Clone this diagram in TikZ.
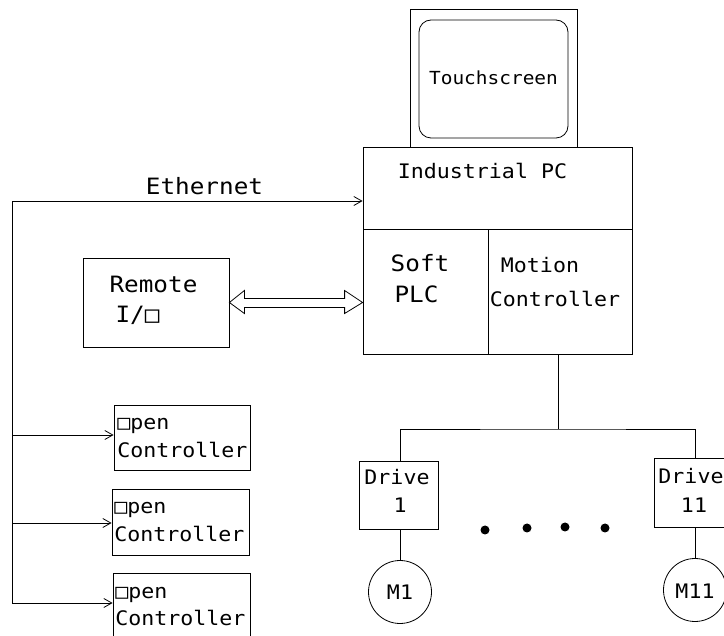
\documentclass[tikz,border=0pt]{standalone}
\usepackage{fontspec}
\newfontfamily\cad[FakeStretch=1.08]{DejaVu Sans Mono}
\usetikzlibrary{arrows.meta,calc}
\begin{document}
\begin{tikzpicture}[x=1pt,y=-1pt,
  line width=0.8pt,
  box/.style={draw, rectangle, inner sep=0pt},
  txt/.style={inner sep=0pt, font=\cad\fontsize{20}{24}\selectfont},
  bigtxt/.style={inner sep=0pt, font=\cad\fontsize{22.5}{26}\selectfont},
  arr/.style={-{Straight Barb[length=8pt,width=9pt]}}]
\path[use as bounding box] (0,0) rectangle (724,636);
\clip (0,0) rectangle (724,636);

% monitor
\node[box, minimum width=167pt, minimum height=138pt] (mon) at (493.5,78) {};
\node[box, rounded corners=12pt, minimum width=149pt, minimum height=118pt] (ts) at (493.5,79) {};
\node[txt, font=\cad\fontsize{18}{22}\selectfont, anchor=base] (tstxt) at (493.5,85) {Touchscreen};

% industrial PC
\node[box, minimum width=269pt, minimum height=82pt] (pctop) at (497.5,188) {};
\node[box, minimum width=125pt, minimum height=125pt] (soft) at (425.5,291.5) {};
\node[box, minimum width=144pt, minimum height=125pt] (motion) at (560,291.5) {};
\node[txt, anchor=base] (pctxt) at (482.5,179) {Industrial PC};
\node[bigtxt, anchor=base] (softtxt) at (420,272) {Soft};
\node[bigtxt, anchor=base] (plctxt) at (416.5,303) {PLC};
\node[txt, anchor=base] (mottxt) at (540,273) {Motion};
\node[txt, anchor=base] (ctltxt) at (555,307) {Controller};

% remote I/O
\node[box, minimum width=146pt, minimum height=89pt] (rio) at (156,302.5) {};
\node[bigtxt, anchor=base] (riotxt1) at (153.5,293) {Remote};
\node[bigtxt, anchor=base] (riotxt2) at (137.5,323) {I/□};

% double arrow Remote I/O <-> Soft PLC
\coordinate (dl) at (rio.east);
\coordinate (dr) at (soft.west |- dl);
\draw (dl) -- ($(dl)+(15,-12)$) -- ($(dl)+(15,-4)$) -- ($(dr)+(-18,-4)$) -- ($(dr)+(-18,-12)$)
  -- (dr) -- ($(dr)+(-18,11)$) -- ($(dr)+(-18,5)$) -- ($(dl)+(15,5)$) -- ($(dl)+(15,11)$) -- cycle;

% Ethernet
\coordinate (etop) at (12,201);
\coordinate (ebot) at (12,603);
\draw[arr] (ebot) -- (etop) -- (pctop.west |- etop);
\node[bigtxt, anchor=base] (ethtxt) at (204.5,195) {Ethernet};

% open controllers
\node[box, minimum width=136pt, minimum height=65pt] (oc1) at (182,437.5) {};
\node[box, minimum width=137pt, minimum height=66pt] (oc2) at (180.5,522) {};
\node[box, minimum width=137pt, minimum height=80pt] (oc3) at (181.5,613) {};
\node[txt, anchor=base west] (oc1a) at (117,430) {□pen};
\node[txt, anchor=base west] (oc1b) at (117,458) {Controller};
\node[txt, anchor=base west] (oc2a) at (114,514) {□pen};
\node[txt, anchor=base west] (oc2b) at (114,542) {Controller};
\node[txt, anchor=base west] (oc3a) at (115,598) {□pen};
\node[txt, anchor=base west] (oc3b) at (115,626) {Controller};
\coordinate (b1) at (12,435);
\coordinate (b2) at (12,523);
\coordinate (b3) at (12,603);
\draw[arr] (b1) -- (b1 -| oc1.west);
\draw[arr] (b2) -- (b2 -| oc2.west);
\draw[arr] (b3) -- (b3 -| oc3.west);

% drives and motors
\node[box, minimum width=79pt, minimum height=68pt] (d1) at (398.5,495) {};
\node[box, minimum width=80pt, minimum height=69pt] (d11) at (694,492.5) {};
\node[txt, anchor=base] (d1a) at (397,485) {Drive};
\node[txt, anchor=base] (d1b) at (400,513) {1};
\node[txt, anchor=base] (d11a) at (691,484) {Drive};
\node[txt, anchor=base] (d11b) at (694,513) {11};
\node[draw, circle, minimum size=63pt, inner sep=0pt] (m1) at (400,592) {};
\node[draw, circle, minimum size=63pt, inner sep=0pt] (m11) at (695,590) {};
\node[txt, anchor=base] (m1t) at (400,600) {M1};
\node[txt, anchor=base] (m11t) at (695,598) {M11};

\coordinate (bus) at (558,429);
\draw (motion.south -| bus) -- (bus);
\draw (d1.north -| m1) |- (bus) -| (d11.north -| m11);
\draw (d1.south -| m1) -- (m1.north);
\draw (d11.south -| m11) -- (m11.north);

\fill (485,530) circle (4.5pt);
\fill (527,528) circle (4.5pt);
\fill (565,527) circle (4.5pt);
\fill (605,528) circle (4.5pt);
\end{tikzpicture}
\end{document}
